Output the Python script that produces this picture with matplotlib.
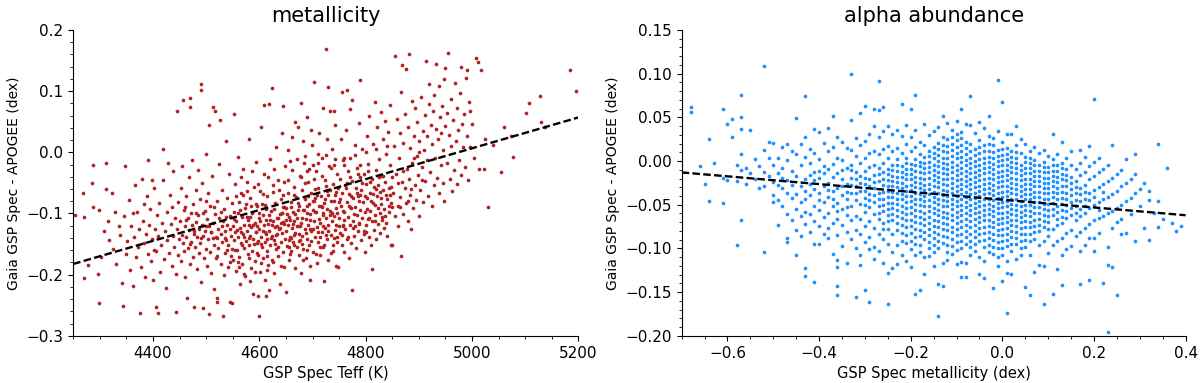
import matplotlib
matplotlib.use("Agg")
import matplotlib.pyplot as plt
import numpy as np
from matplotlib.ticker import AutoMinorLocator, MultipleLocator

# --- left panel: (GSP Spec Teff [K], Gaia - APOGEE [M/H])
metal_pts = [
    # 4250-4350
    (4253, -0.102), (4268, -0.066), (4271, -0.105), (4271, -0.206), (4278, -0.184), (4286, -0.050),
    (4287, -0.020), (4288, -0.090), (4297, -0.199), (4299, -0.095), (4299, -0.247), (4303, -0.171),
    (4308, -0.128), (4312, -0.017), (4312, -0.060), (4316, -0.112), (4318, -0.143), (4323, -0.066),
    (4325, -0.158), (4329, -0.097), (4331, -0.182), (4336, -0.121), (4338, -0.135), (4341, -0.213),
    (4344, -0.251), (4346, -0.104), (4348, -0.022), (4349, -0.167),
    # 4350-4450
    (4352, -0.145), (4355, -0.078), (4357, -0.192), (4359, -0.121), (4362, -0.218), (4364, -0.139),
    (4366, -0.054), (4368, -0.171), (4370, -0.098), (4372, -0.155), (4374, -0.126), (4376, -0.262),
    (4377, -0.187), (4379, -0.044), (4381, -0.112), (4383, -0.149), (4385, -0.203), (4386, -0.133),
    (4388, -0.072), (4390, -0.166), (4391, -0.012), (4393, -0.118), (4395, -0.092), (4396, -0.178),
    (4398, -0.141), (4400, -0.209), (4401, -0.058), (4403, -0.125), (4405, -0.252), (4406, -0.161),
    (4408, -0.103), (4410, -0.263), (4410, -0.137), (4412, -0.083), (4414, -0.195), (4415, -0.152),
    (4417, -0.115), (4419, -0.046), (4421, -0.174), (4422, -0.129), (4424, -0.221), (4426, -0.098),
    (4427, -0.143), (4428, -0.017), (4430, -0.164), (4432, -0.069), (4433, -0.117), (4435, -0.185),
    (4437, -0.136), (4438, -0.031), (4440, -0.154), (4441, -0.107), (4443, -0.261), (4444, -0.199),
    (4445, 0.067), (4446, -0.126), (4447, -0.081), (4448, -0.168), (4449, -0.141), (4398, -0.045),
    (4418, 0.005), (4384, -0.085), (4362, -0.100), (4402, -0.160), (4436, -0.090),
    # 4450-4550
    (4451, -0.112), (4452, -0.058), (4453, -0.177), (4454, -0.135), (4455, -0.022), (4456, -0.149),
    (4457, 0.086), (4458, -0.094), (4459, -0.162), (4460, -0.121), (4461, -0.203), (4462, -0.071),
    (4463, -0.138), (4464, -0.238), (4465, -0.108), (4466, -0.156), (4467, -0.041), (4468, -0.127),
    (4469, -0.183), (4470, 0.089), (4470, 0.074), (4471, -0.099), (4472, -0.146), (4473, -0.012),
    (4474, -0.118), (4475, -0.171), (4476, -0.085), (4477, -0.133), (4478, -0.252), (4479, -0.154),
    (4480, -0.062), (4481, -0.114), (4482, -0.191), (4483, -0.139), (4484, -0.029), (4485, -0.102),
    (4486, -0.165), (4487, -0.125), (4488, -0.076), (4489, -0.148), (4490, 0.112), (4490, 0.102),
    (4491, -0.212), (4492, -0.118), (4493, -0.051), (4494, -0.137), (4495, -0.255), (4496, -0.173),
    (4497, -0.096), (4498, -0.129), (4499, -0.002), (4500, -0.158), (4501, -0.109), (4502, -0.186),
    (4503, -0.067), (4504, -0.142), (4505, -0.121), (4506, 0.044), (4506, -0.265), (4507, -0.163),
    (4508, -0.088), (4509, -0.131), (4510, -0.197), (4511, -0.038), (4512, -0.116), (4513, 0.074),
    (4514, -0.151), (4515, -0.224), (4516, -0.101), (4517, 0.067), (4518, -0.139), (4519, -0.172),
    (4520, -0.238), (4521, -0.244), (4521, -0.079), (4522, -0.125), (4523, -0.156), (4524, -0.019),
    (4525, -0.108), (4526, 0.053), (4527, -0.182), (4528, -0.134), (4529, -0.061), (4530, -0.147),
    (4531, -0.267), (4532, -0.113), (4533, -0.201), (4534, -0.092), (4535, -0.165), (4536, -0.128),
    (4537, 0.018), (4538, -0.144), (4539, -0.074), (4540, -0.119), (4541, -0.188), (4542, -0.152),
    (4543, -0.035), (4544, -0.244), (4545, -0.104), (4546, -0.169), (4547, -0.136), (4548, -0.083),
    (4549, -0.247), (4549, -0.158), (4462, -0.110), (4478, -0.128), (4494, -0.100), (4512, -0.140),
    (4528, -0.097), (4544, -0.125), (4470, -0.150), (4500, -0.080), (4520, -0.170), (4538, -0.105),
    (4520, -0.140), (4530, -0.120), (4540, -0.160), (4510, -0.130), (4490, -0.140), (4480, -0.100),
    (4460, -0.090), (4500, -0.120), (4515, -0.090), (4535, -0.140), (4545, -0.180),
    # 4550-4650
    (4550, -0.121), (4551, -0.176), (4552, 0.063), (4552, -0.097), (4553, -0.143), (4554, -0.052),
    (4555, -0.131), (4556, -0.194), (4557, -0.112), (4558, -0.159), (4559, -0.008), (4560, -0.138),
    (4561, -0.082), (4562, -0.171), (4563, -0.124), (4564, -0.215), (4565, -0.149), (4566, -0.067),
    (4567, -0.106), (4568, -0.183), (4569, -0.133), (4570, -0.028), (4571, -0.157), (4572, -0.118),
    (4573, -0.091), (4574, -0.202), (4575, -0.145), (4576, -0.129), (4577, -0.048), (4578, -0.166),
    (4579, -0.111), (4580, 0.021), (4581, -0.152), (4582, -0.137), (4583, -0.075), (4584, -0.189),
    (4585, -0.122), (4586, -0.161), (4587, -0.099), (4588, -0.231), (4589, -0.141), (4590, -0.057),
    (4591, -0.115), (4592, -0.177), (4593, -0.131), (4594, -0.016), (4595, -0.149), (4596, -0.087),
    (4597, -0.168), (4598, -0.235), (4599, -0.268), (4599, -0.108), (4600, -0.126), (4601, -0.195),
    (4602, -0.064), (4603, -0.139), (4604, 0.041), (4605, -0.154), (4606, -0.102), (4607, -0.172),
    (4608, 0.078), (4608, -0.119), (4609, -0.036), (4610, -0.146), (4611, -0.209), (4612, -0.235),
    (4612, -0.093), (4613, -0.133), (4614, -0.161), (4615, -0.071), (4616, -0.117), (4617, -0.184),
    (4618, 0.079), (4618, -0.225), (4619, -0.128), (4620, -0.011), (4621, -0.151), (4622, -0.096),
    (4623, 0.105), (4623, -0.137), (4624, -0.176), (4625, -0.112), (4626, -0.054), (4627, -0.143),
    (4628, -0.198), (4629, -0.122), (4630, -0.083), (4631, -0.158), (4632, 0.008), (4633, -0.107),
    (4634, -0.134), (4635, -0.169), (4636, -0.046), (4637, -0.125), (4638, -0.215), (4639, -0.101),
    (4640, -0.147), (4641, -0.077), (4642, -0.132), (4643, 0.032), (4644, 0.076), (4644, -0.163),
    (4645, -0.114), (4646, -0.188), (4647, -0.089), (4648, -0.141), (4649, -0.023),
    (4553, -0.109), (4558, -0.127), (4563, -0.095), (4567, -0.152), (4572, -0.139), (4576, -0.105),
    (4581, -0.173), (4585, -0.088), (4589, -0.118), (4594, -0.131), (4597, -0.145), (4602, -0.112),
    (4606, -0.128), (4611, -0.086), (4615, -0.141), (4619, -0.103), (4623, -0.119), (4627, -0.092),
    (4631, -0.135), (4635, -0.108), (4639, -0.124), (4643, -0.099), (4647, -0.117), (4556, -0.072),
    (4566, -0.041), (4577, -0.063), (4587, -0.031), (4597, -0.052), (4607, -0.068), (4617, -0.041),
    (4627, -0.027), (4637, -0.061), (4647, -0.048), (4561, -0.188), (4571, -0.199), (4583, -0.211),
    (4592, -0.196), (4604, -0.181), (4614, -0.193), (4626, -0.179), (4641, -0.186),
    (4555, -0.160), (4565, -0.130), (4580, -0.118), (4590, -0.150), (4600, -0.100), (4610, -0.130),
    (4620, -0.110), (4630, -0.150), (4640, -0.115), (4645, -0.070), (4575, -0.085), (4595, -0.120),
    (4560, -0.100), (4570, -0.070), (4582, -0.105), (4593, -0.085), (4603, -0.150), (4613, -0.110),
    (4622, -0.140), (4633, -0.120), (4642, -0.100), (4595, -0.165), (4615, -0.170), (4635, -0.155),
    (4580, -0.140), (4605, -0.085), (4625, -0.065), (4645, -0.090), (4560, -0.180),
    # 4650-4750
    (4650, -0.128), (4651, -0.228), (4651, -0.091), (4652, -0.153), (4653, -0.067), (4654, -0.119),
    (4655, -0.176), (4656, -0.105), (4657, -0.014), (4658, -0.138), (4659, -0.081), (4660, -0.162),
    (4661, -0.124), (4662, 0.025), (4663, -0.098), (4664, -0.147), (4665, -0.056), (4666, -0.113),
    (4667, -0.189), (4668, -0.132), (4669, -0.073), (4670, -0.154), (4671, -0.107), (4672, 0.042),
    (4673, -0.121), (4674, -0.168), (4675, -0.088), (4676, -0.039), (4677, -0.143), (4678, 0.081),
    (4678, -0.115), (4679, -0.198), (4680, -0.062), (4681, -0.136), (4682, -0.094), (4683, -0.158),
    (4684, -0.018), (4685, -0.126), (4686, -0.077), (4687, -0.109), (4688, -0.172), (4689, 0.057),
    (4690, -0.141), (4691, -0.049), (4692, -0.118), (4693, -0.085), (4694, -0.151), (4695, -0.101),
    (4696, -0.208), (4697, -0.066), (4698, -0.129), (4699, 0.012), (4700, -0.094), (4701, -0.163),
    (4702, -0.112), (4703, 0.115), (4704, -0.075), (4705, -0.139), (4706, -0.031), (4707, -0.098),
    (4708, -0.181), (4709, -0.122), (4710, -0.058), (4711, -0.146), (4712, -0.087), (4713, 0.031),
    (4714, -0.115), (4715, -0.168), (4716, -0.071), (4717, -0.131), (4718, -0.009), (4719, -0.103),
    (4720, 0.073), (4720, -0.155), (4721, -0.211), (4722, -0.083), (4723, -0.124), (4724, -0.046),
    (4725, 0.169), (4726, -0.108), (4727, -0.142), (4728, -0.064), (4729, -0.118), (4730, 0.107),
    (4730, -0.176), (4731, -0.022), (4732, -0.096), (4733, 0.067), (4734, -0.135), (4735, -0.079),
    (4736, -0.113), (4737, 0.005), (4738, -0.151), (4739, -0.052), (4740, -0.104), (4741, 0.068),
    (4742, -0.127), (4743, -0.069), (4744, -0.185), (4745, -0.091), (4746, -0.036), (4747, -0.138),
    (4748, -0.187), (4749, -0.081),
    (4652, -0.101), (4656, -0.143), (4660, -0.089), (4664, -0.117), (4668, -0.101), (4672, -0.083),
    (4676, -0.121), (4680, -0.108), (4684, -0.094), (4688, -0.132), (4692, -0.071), (4696, -0.111),
    (4700, -0.126), (4704, -0.097), (4708, -0.069), (4712, -0.109), (4716, -0.088), (4720, -0.121),
    (4724, -0.076), (4728, -0.092), (4732, -0.061), (4736, -0.099), (4740, -0.079), (4744, -0.118),
    (4748, -0.059), (4654, -0.045), (4662, -0.029), (4670, -0.011), (4678, -0.041), (4686, -0.006),
    (4694, -0.028), (4702, -0.044), (4710, -0.017), (4718, -0.038), (4726, -0.004), (4734, -0.026),
    (4742, -0.011), (4658, -0.166), (4666, -0.151), (4674, -0.133), (4682, -0.176), (4690, -0.159),
    (4698, -0.145), (4706, -0.167), (4714, -0.139), (4722, -0.152), (4730, -0.128), (4738, -0.161),
    (4746, -0.147), (4653, 0.003), (4667, 0.049), (4683, 0.018), (4697, 0.037), (4711, -0.002),
    (4727, 0.022), (4743, 0.045), (4658, -0.110), (4673, -0.095), (4689, -0.088), (4703, -0.080),
    (4718, -0.090), (4733, -0.102), (4747, -0.100), (4665, -0.135), (4695, -0.125), (4725, -0.135),
    (4650, -0.110), (4660, -0.140), (4670, -0.120), (4680, -0.150), (4690, -0.100), (4700, -0.080),
    (4710, -0.130), (4720, -0.100), (4730, -0.070), (4740, -0.140), (4655, -0.155), (4675, -0.145),
    (4695, -0.185), (4715, -0.155), (4735, -0.165), (4665, -0.070), (4685, -0.050), (4705, -0.060),
    (4725, -0.055), (4745, -0.065), (4700, -0.020), (4690, -0.030), (4740, -0.020),
    # 4750-4850
    (4750, -0.108), (4751, -0.043), (4752, -0.132), (4753, 0.021), (4754, -0.087), (4755, 0.098),
    (4755, -0.151), (4756, -0.066), (4757, -0.119), (4758, -0.013), (4759, -0.097), (4760, -0.163),
    (4761, -0.054), (4762, -0.126), (4763, 0.036), (4764, -0.082), (4765, 0.101), (4765, -0.141),
    (4766, -0.031), (4767, -0.105), (4768, -0.172), (4769, -0.068), (4770, 0.070), (4770, -0.118),
    (4771, -0.009), (4772, -0.091), (4773, -0.148), (4774, -0.047), (4775, 0.085), (4775, -0.225),
    (4776, -0.112), (4777, -0.075), (4778, -0.136), (4779, 0.012), (4780, -0.089), (4781, -0.157),
    (4782, -0.058), (4783, -0.103), (4784, -0.026), (4785, -0.129), (4786, -0.071), (4787, 0.048),
    (4788, -0.115), (4789, -0.041), (4790, 0.118), (4790, -0.094), (4791, -0.143), (4792, -0.062),
    (4793, -0.108), (4794, 0.005), (4795, -0.081), (4796, -0.134), (4797, -0.036), (4798, -0.097),
    (4799, -0.163), (4800, -0.052), (4801, -0.118), (4802, 0.027), (4803, -0.074), (4804, -0.109),
    (4805, -0.019), (4806, -0.138), (4807, 0.059), (4808, -0.066), (4809, -0.096), (4810, -0.151),
    (4811, -0.190), (4811, -0.044), (4812, -0.113), (4813, 0.014), (4814, -0.083), (4815, -0.127),
    (4816, -0.057), (4817, 0.082), (4818, -0.102), (4819, -0.029), (4820, -0.141), (4821, -0.072),
    (4822, 0.042), (4823, -0.091), (4824, -0.117), (4825, -0.011), (4826, -0.065), (4827, -0.132),
    (4828, 0.066), (4829, -0.085), (4830, -0.039), (4831, -0.106), (4832, 0.022), (4833, -0.061),
    (4834, -0.124), (4835, -0.092), (4836, 0.051), (4837, -0.048), (4838, -0.115), (4839, -0.003),
    (4840, -0.077), (4841, -0.137), (4842, 0.033), (4843, -0.059), (4844, -0.098), (4845, -0.021),
    (4846, 0.078), (4847, -0.083), (4848, -0.152), (4849, -0.152), (4849, -0.041),
    (4752, -0.077), (4758, -0.096), (4763, -0.059), (4768, -0.088), (4773, -0.071), (4778, -0.101),
    (4783, -0.066), (4788, -0.079), (4793, -0.051), (4798, -0.072), (4803, -0.093), (4808, -0.049),
    (4813, -0.068), (4818, -0.086), (4823, -0.053), (4828, -0.074), (4833, -0.038), (4838, -0.069),
    (4843, -0.087), (4848, -0.056), (4757, -0.121), (4767, -0.139), (4777, -0.124), (4787, -0.117),
    (4797, -0.128), (4807, -0.107), (4817, -0.113), (4827, -0.099), (4837, -0.104),
    (4760, -0.020), (4780, -0.005), (4800, 0.000), (4820, 0.005), (4840, 0.010), (4770, -0.040),
    (4750, -0.120), (4760, -0.110), (4770, -0.090), (4780, -0.120), (4790, -0.070), (4800, -0.130),
    (4810, -0.080), (4820, -0.060), (4830, -0.110), (4755, -0.135), (4765, -0.050), (4785, -0.035),
    (4805, -0.030), (4825, -0.040), (4845, -0.070), (4760, -0.010), (4790, -0.020),
    # 4850-4950
    (4851, -0.066), (4853, 0.011), (4855, -0.104), (4856, 0.157), (4857, -0.035), (4858, 0.054),
    (4860, -0.087), (4861, -0.121), (4862, -0.009), (4864, 0.032), (4865, -0.073), (4866, 0.098),
    (4867, -0.170), (4868, -0.048), (4869, 0.143), (4870, -0.101), (4871, 0.015), (4873, -0.059),
    (4874, 0.062), (4876, 0.136), (4876, -0.083), (4877, -0.027), (4879, 0.041), (4880, -0.113),
    (4881, -0.044), (4882, 0.160), (4883, 0.007), (4884, -0.069), (4886, -0.126), (4887, 0.083),
    (4888, -0.018), (4889, -0.091), (4891, 0.026), (4892, -0.053), (4893, 0.072), (4895, -0.078),
    (4896, -0.006), (4897, 0.049), (4899, -0.037), (4900, -0.104), (4901, 0.018), (4903, -0.061),
    (4904, 0.091), (4905, -0.024), (4907, 0.035), (4908, -0.082), (4909, 0.004), (4911, 0.061),
    (4912, -0.047), (4914, 0.149), (4915, -0.013), (4916, 0.027), (4918, -0.071), (4919, 0.079),
    (4920, 0.112), (4921, -0.032), (4923, 0.045), (4924, -0.088), (4925, 0.013), (4926, 0.068),
    (4928, -0.054), (4929, 0.094), (4930, -0.009), (4932, 0.145), (4933, 0.038), (4934, -0.042),
    (4936, 0.022), (4937, -0.066), (4938, 0.108), (4939, 0.057), (4941, -0.021), (4942, 0.031),
    (4944, 0.076), (4945, -0.051), (4946, 0.004), (4947, 0.119), (4948, -0.079), (4949, 0.043),
    (4850, -0.090), (4860, -0.050), (4870, -0.030), (4880, -0.080), (4890, -0.010), (4900, 0.000),
    (4865, -0.090), (4885, -0.060), (4905, -0.045),
    # 4950-5200
    (4950, 0.137), (4952, 0.064), (4953, -0.018), (4954, 0.162), (4956, 0.029), (4958, -0.044),
    (4960, 0.087), (4961, 0.011), (4963, -0.063), (4964, 0.052), (4966, -0.029), (4968, 0.113),
    (4969, 0.018), (4971, -0.052), (4972, 0.072), (4974, 0.036), (4975, -0.012), (4977, 0.097),
    (4979, 0.139), (4980, -0.037), (4981, 0.047), (4983, 0.008), (4985, 0.063), (4986, -0.024),
    (4988, 0.121), (4990, 0.135), (4991, 0.027), (4993, -0.046), (4995, 0.082), (4997, 0.068),
    (4997, 0.009), (4999, 0.046), (5004, -0.010), (5008, 0.154), (5012, 0.147), (5013, -0.027),
    (5017, 0.134), (5022, -0.027), (5030, -0.089), (5025, 0.021), (5040, 0.012),
    (5055, -0.033), (5060, 0.042), (5073, 0.026), (5077, -0.007), (5101, 0.064), (5108, 0.080),
    (5127, 0.092), (5130, 0.049), (5137, 0.042), (5185, 0.134), (5196, 0.100),
]

# --- right panel: GSP Spec [M/H] column -> Gaia - APOGEE [alpha/M] values
alpha_cols = {
    -0.68: [0.062, 0.056], -0.66: [-0.006], -0.65: [-0.026], -0.64: [0.025, -0.046],
    -0.63: [-0.002], -0.61: [0.060, -0.019, -0.048], -0.60: [0.042, -0.022], -0.59: [0.048, 0.027],
    -0.58: [-0.023, -0.096, -0.004], -0.57: [0.076, 0.050, 0.037, 0.008, -0.010, -0.067],
    -0.56: [-0.026, -0.008], -0.55: [0.036, -0.014], -0.54: [0.002, -0.021], -0.53: [-0.006, -0.031],
    -0.52: [0.109, 0.013, -0.104, -0.012, -0.029], -0.51: [0.022, 0.003, -0.017],
    -0.50: [0.021, -0.004, -0.024, -0.039, -0.047], -0.49: [0.004, -0.014, -0.045, -0.073, -0.027],
    -0.48: [0.016, -0.008, -0.031, -0.052, -0.019],
    -0.47: [0.020, 0.001, -0.022, -0.061, -0.088, -0.093, -0.036],
    -0.46: [0.011, -0.011, -0.042, -0.068, -0.027],
    -0.45: [0.049, 0.008, -0.017, -0.038, -0.055, -0.079, -0.107],
    -0.44: [0.019, -0.004, -0.029, -0.047, -0.063, -0.086],
    -0.43: [0.074, 0.027, 0.005, -0.021, -0.044, -0.058, -0.072, -0.122, -0.132, -0.034],
    -0.42: [0.014, -0.002, -0.016, -0.039, -0.061, -0.081, -0.026],
    -0.41: [0.037, 0.009, -0.012, -0.032, -0.051, -0.069, -0.095, -0.138, -0.022],
    -0.40: [0.033, 0.002, -0.019, -0.037, -0.056, -0.074, -0.095, -0.011, -0.045],
    -0.39: [0.021, -0.006, -0.028, -0.047, -0.064, -0.083, -0.014],
    -0.38: [0.038, 0.012, -0.009, -0.025, -0.041, -0.059, -0.077, -0.088, -0.033],
    -0.37: [0.051, 0.016, -0.003, -0.018, -0.034, -0.052, -0.071, -0.106, -0.043],
    -0.36: [0.028, 0.004, -0.014, -0.031, -0.048, -0.066, -0.085, -0.113, -0.121, -0.143, -0.153, -0.057],
    -0.35: [0.022, 0.001, -0.021, -0.039, -0.055, -0.073, -0.097, -0.029, -0.010],
    -0.34: [0.015, -0.008, -0.026, -0.044, -0.062, -0.081, -0.117, -0.035, -0.053],
    -0.33: [0.100, 0.047, 0.013, -0.005, -0.019, -0.036, -0.051, -0.068, -0.089, -0.027, -0.010],
    -0.32: [0.026, 0.006, -0.012, -0.029, -0.045, -0.063, -0.079, -0.099, -0.155, -0.021, -0.037],
    -0.31: [0.055, 0.018, -0.002, -0.017, -0.034, -0.049, -0.066, -0.084, -0.108, -0.119, -0.025],
    -0.30: [0.063, 0.023, 0.004, -0.011, -0.026, -0.042, -0.058, -0.074, -0.093, -0.148, -0.019,
            -0.034, -0.050],
    -0.29: [0.031, 0.009, -0.007, -0.021, -0.038, -0.053, -0.069, -0.087, -0.101, -0.161, -0.029,
            -0.045],
    -0.28: [0.060, 0.040, 0.012, -0.004, -0.016, -0.031, -0.047, -0.061, -0.077, -0.098, -0.112,
            -0.024, -0.039],
    -0.27: [0.092, 0.058, 0.028, 0.008, -0.008, -0.023, -0.036, -0.052, -0.066, -0.083, -0.103,
            -0.015, -0.044, -0.059],
    -0.26: [0.062, 0.034, 0.014, -0.002, -0.013, -0.027, -0.043, -0.057, -0.071, -0.089, -0.117,
            -0.020, -0.035, -0.050, -0.078],
    -0.25: [0.040, 0.017, 0.003, -0.009, -0.022, -0.034, -0.048, -0.062, -0.078, -0.095, -0.128,
            -0.163, -0.015, -0.028, -0.041, -0.055, -0.069],
    -0.24: [0.031, 0.011, -0.004, -0.017, -0.029, -0.041, -0.054, -0.068, -0.084, -0.104, -0.122,
            -0.010, -0.023, -0.035, -0.048, -0.061],
    -0.23: [0.036, 0.015, 0.002, -0.011, -0.024, -0.037, -0.049, -0.063, -0.079, -0.096, -0.118,
            -0.005, -0.018, -0.030, -0.043, -0.056, -0.071],
    -0.22: [0.065, 0.029, 0.009, -0.006, -0.018, -0.031, -0.044, -0.058, -0.073, -0.091, -0.108,
            -0.012, -0.025, -0.038, -0.051, -0.065, -0.082],
    -0.21: [0.041, 0.019, 0.004, -0.009, -0.021, -0.034, -0.047, -0.061, -0.076, -0.094, -0.114,
            -0.002, -0.015, -0.028, -0.040, -0.054, -0.068, -0.085],
    -0.20: [0.060, 0.027, 0.011, -0.003, -0.015, -0.027, -0.040, -0.053, -0.067, -0.082, -0.101,
            -0.121, -0.009, -0.021, -0.033, -0.046, -0.060, -0.074, -0.091],
    -0.19: [0.076, 0.035, 0.016, 0.002, -0.011, -0.024, -0.036, -0.049, -0.063, -0.078, -0.095,
            -0.152, -0.005, -0.018, -0.030, -0.043, -0.056, -0.070, -0.087, -0.108],
    -0.18: [0.022, 0.008, -0.006, -0.019, -0.031, -0.044, -0.057, -0.071, -0.086, -0.104, -0.147,
            -0.001, -0.013, -0.025, -0.038, -0.050, -0.064, -0.079, -0.096],
    -0.17: [0.042, 0.018, 0.005, -0.008, -0.021, -0.033, -0.046, -0.059, -0.073, -0.089, -0.129,
            -0.110, -0.002, -0.014, -0.027, -0.040, -0.052, -0.066, -0.081],
    -0.16: [0.030, 0.012, -0.001, -0.013, -0.026, -0.038, -0.051, -0.064, -0.078, -0.093, -0.109,
            0.006, -0.007, -0.019, -0.032, -0.045, -0.057, -0.071, -0.085, -0.100],
    -0.15: [0.034, 0.016, 0.003, -0.010, -0.022, -0.035, -0.047, -0.060, -0.074, -0.088, -0.104,
            -0.120, 0.009, -0.004, -0.016, -0.028, -0.041, -0.054, -0.067, -0.081, -0.096],
    -0.14: [0.039, 0.021, 0.007, -0.006, -0.018, -0.030, -0.043, -0.056, -0.069, -0.083, -0.099,
            -0.141, -0.177, 0.014, 0.000, -0.012, -0.024, -0.037, -0.049, -0.062, -0.076, -0.091],
    -0.13: [0.051, 0.027, 0.011, -0.002, -0.014, -0.026, -0.039, -0.051, -0.064, -0.078, -0.094,
            -0.117, -0.143, 0.018, 0.004, -0.008, -0.020, -0.033, -0.045, -0.058, -0.071, -0.086],
    -0.12: [0.044, 0.025, 0.010, -0.003, -0.015, -0.027, -0.040, -0.052, -0.065, -0.079, -0.096,
            -0.113, 0.017, 0.003, -0.009, -0.021, -0.034, -0.046, -0.059, -0.072, -0.087, -0.104],
    -0.11: [0.035, 0.020, 0.006, -0.007, -0.019, -0.031, -0.043, -0.055, -0.068, -0.081, -0.097,
            0.027, 0.013, -0.001, -0.013, -0.025, -0.037, -0.049, -0.062, -0.075, -0.089, -0.106],
    -0.10: [0.046, 0.031, 0.016, 0.003, -0.010, -0.022, -0.034, -0.046, -0.058, -0.071, -0.085,
            -0.102, -0.118, 0.024, 0.009, -0.004, -0.016, -0.028, -0.040, -0.052, -0.064, -0.078,
            -0.093],
    -0.09: [0.060, 0.033, 0.018, 0.005, -0.008, -0.020, -0.032, -0.044, -0.056, -0.069, -0.083,
            -0.099, -0.116, 0.026, 0.011, -0.001, -0.014, -0.026, -0.038, -0.050, -0.062, -0.076,
            -0.091, -0.133],
    -0.08: [0.042, 0.022, 0.008, -0.005, -0.017, -0.029, -0.041, -0.053, -0.066, -0.080, -0.095,
            -0.117, 0.015, 0.001, -0.011, -0.023, -0.035, -0.047, -0.059, -0.073, -0.087, -0.133],
    -0.07: [0.074, 0.041, 0.019, 0.004, -0.008, -0.020, -0.032, -0.044, -0.056, -0.069, -0.083,
            -0.098, 0.012, -0.002, -0.014, -0.026, -0.038, -0.050, -0.062, -0.076, -0.091, -0.107],
    -0.06: [0.032, 0.014, 0.000, -0.012, -0.024, -0.036, -0.048, -0.060, -0.073, -0.087, -0.103,
            0.007, -0.006, -0.018, -0.030, -0.042, -0.054, -0.066, -0.080, -0.095],
    -0.05: [0.045, 0.024, 0.009, -0.004, -0.016, -0.028, -0.040, -0.052, -0.064, -0.077, -0.092,
            -0.110, 0.016, 0.002, -0.010, -0.022, -0.034, -0.046, -0.058, -0.070, -0.084, -0.129],
    -0.04: [0.038, 0.018, 0.004, -0.008, -0.020, -0.032, -0.044, -0.056, -0.068, -0.082, -0.098,
            -0.114, 0.011, -0.002, -0.014, -0.026, -0.038, -0.050, -0.062, -0.075, -0.090, -0.134],
    -0.03: [0.052, 0.029, 0.012, -0.001, -0.013, -0.025, -0.037, -0.049, -0.061, -0.074, -0.088,
            -0.104, 0.020, 0.005, -0.007, -0.019, -0.031, -0.043, -0.055, -0.067, -0.081, -0.096],
    -0.02: [0.026, 0.010, -0.003, -0.015, -0.027, -0.039, -0.051, -0.063, -0.076, -0.090, -0.106,
            -0.145, 0.018, 0.003, -0.009, -0.021, -0.033, -0.045, -0.057, -0.070, -0.083, -0.098],
    -0.01: [0.093, 0.034, 0.013, 0.000, -0.012, -0.024, -0.036, -0.048, -0.060, -0.072, -0.085,
            -0.100, -0.120, 0.006, -0.006, -0.018, -0.030, -0.042, -0.054, -0.066, -0.079, -0.093,
            -0.110],
    0.00: [0.067, 0.022, 0.007, -0.005, -0.017, -0.029, -0.041, -0.053, -0.065, -0.078, -0.092,
           -0.108, -0.137, 0.014, 0.001, -0.011, -0.023, -0.035, -0.047, -0.059, -0.071, -0.085,
           -0.100],
    0.01: [0.031, 0.015, 0.002, -0.010, -0.022, -0.034, -0.046, -0.058, -0.070, -0.083, -0.097,
           -0.114, -0.128, -0.174, 0.008, -0.004, -0.016, -0.028, -0.040, -0.052, -0.064, -0.077,
           -0.090],
    0.02: [0.031, 0.012, -0.001, -0.013, -0.025, -0.037, -0.049, -0.061, -0.073, -0.087, -0.103,
           -0.129, 0.005, -0.007, -0.019, -0.031, -0.043, -0.055, -0.067, -0.080, -0.095],
    0.03: [0.040, 0.018, 0.004, -0.008, -0.020, -0.032, -0.044, -0.056, -0.068, -0.081, -0.095,
           -0.112, 0.010, -0.002, -0.014, -0.026, -0.038, -0.050, -0.062, -0.074, -0.088],
    0.04: [0.025, 0.009, -0.004, -0.016, -0.028, -0.040, -0.052, -0.064, -0.077, -0.091, -0.107,
           -0.010, -0.022, -0.034, -0.046, -0.058, -0.070, -0.084, -0.099],
    0.05: [0.019, 0.005, -0.008, -0.020, -0.032, -0.044, -0.056, -0.069, -0.083, -0.098, -0.144,
           -0.001, -0.014, -0.026, -0.038, -0.050, -0.062, -0.076, -0.090],
    0.06: [0.011, -0.002, -0.014, -0.026, -0.038, -0.050, -0.063, -0.076, -0.091, -0.108, -0.153,
           0.004, -0.008, -0.020, -0.032, -0.044, -0.057, -0.070, -0.084],
    0.07: [0.016, 0.001, -0.011, -0.023, -0.035, -0.047, -0.060, -0.074, -0.089, -0.127, -0.005,
           -0.017, -0.029, -0.041, -0.053, -0.067, -0.081],
    0.08: [0.009, -0.005, -0.017, -0.029, -0.041, -0.053, -0.066, -0.080, -0.096, -0.119, -0.011,
           -0.023, -0.035, -0.047, -0.060, -0.073],
    0.09: [0.013, -0.001, -0.013, -0.025, -0.037, -0.049, -0.062, -0.076, -0.092, -0.163, -0.007,
           -0.019, -0.031, -0.043, -0.055, -0.069, -0.120],
    0.10: [0.006, -0.007, -0.019, -0.031, -0.043, -0.056, -0.070, -0.086, -0.105, -0.013, -0.025,
           -0.037, -0.049, -0.063, -0.078],
    0.11: [0.031, 0.002, -0.011, -0.023, -0.035, -0.048, -0.062, -0.078, -0.096, -0.152, -0.005,
           -0.017, -0.029, -0.041, -0.055],
    0.12: [0.008, -0.005, -0.018, -0.031, -0.044, -0.058, -0.073, -0.091, -0.124, -0.011, -0.024,
           -0.037, -0.051, -0.066],
    0.13: [0.022, -0.002, -0.015, -0.028, -0.042, -0.056, -0.071, -0.088, -0.142, -0.008, -0.021,
           -0.035, -0.049, -0.064, -0.108],
    0.14: [0.004, -0.009, -0.022, -0.036, -0.050, -0.065, -0.082, -0.101, -0.016, -0.029, -0.043,
           -0.057],
    0.15: [0.011, -0.004, -0.018, -0.032, -0.047, -0.062, -0.079, -0.097, -0.025, -0.039, -0.054],
    0.16: [-0.009, -0.023, -0.037, -0.052, -0.068, -0.086, -0.030, -0.045, -0.060],
    0.17: [0.013, -0.002, -0.016, -0.031, -0.046, -0.063, -0.081, -0.141, -0.103, -0.038, -0.055],
    0.18: [0.005, -0.012, -0.027, -0.043, -0.059, -0.077, -0.096, -0.035, -0.051],
    0.19: [0.017, -0.006, -0.021, -0.037, -0.054, -0.072, -0.136, -0.045, -0.088],
    0.20: [0.071, -0.001, -0.017, -0.033, -0.050, -0.068, -0.088, -0.103, -0.041],
    0.21: [0.004, -0.013, -0.030, -0.047, -0.065, -0.082, -0.056],
    0.22: [-0.009, -0.026, -0.044, -0.063, -0.139, -0.035],
    0.23: [-0.196, -0.005, -0.023, -0.041, -0.060, -0.098, -0.119],
    0.24: [0.018, -0.019, -0.038, -0.057, -0.077, -0.121],
    0.25: [-0.153, -0.015, -0.034, -0.054, -0.070],
    0.26: [-0.010, -0.029, -0.050, -0.066, -0.084],
    0.27: [0.002, -0.025, -0.046, -0.082],
    0.28: [-0.021, -0.042, -0.061],
    0.29: [0.008, -0.015, -0.037, -0.092],
    0.30: [-0.032, -0.052], 0.31: [-0.025, -0.077], 0.32: [-0.034, -0.045, -0.090],
    0.33: [-0.060], 0.34: [0.019, -0.075, -0.046], 0.35: [-0.066], 0.36: [-0.008],
    0.37: [-0.071], 0.38: [-0.080], 0.39: [-0.074],
}

# linear fits drawn as dashed lines (slope, intercept)
metal_fit = (2.52e-4, -1.2535)
alpha_fit = (-0.0445, -0.0442)

metal_color = "#b22222"
alpha_color = "#1e90ff"


def minus(fmt):
    return plt.FuncFormatter(lambda v, _: format(v, fmt).replace("-", "\u2212"))


def draw_panel(ax, x, y, fit, xlim, color, title, xlabel):
    ax.scatter(x, y, s=7, c=color, linewidths=0, zorder=2)
    xs = np.array(xlim)
    ax.plot(xs, fit[0] * xs + fit[1], color="black", lw=1.7, dashes=(3.2, 1.4), zorder=3)
    ax.set_xlim(*xlim)
    ax.set_title(title, fontsize=15)
    ax.set_xlabel(xlabel, fontsize=10.5)
    ax.set_ylabel("Gaia GSP Spec - APOGEE (dex)", fontsize=10)
    for side in ("top", "right"):
        ax.spines[side].set_visible(False)
    ax.tick_params(labelsize=11)
    ax.xaxis.set_minor_locator(AutoMinorLocator(4))


fig = plt.figure(figsize=(12, 3.83), dpi=100)
ax1 = fig.add_axes([0.061, 0.123, 0.421, 0.799])
ax2 = fig.add_axes([0.568, 0.123, 0.420, 0.799])

teff = np.array([p[0] for p in metal_pts])
d_mh = np.array([p[1] for p in metal_pts])
draw_panel(ax1, teff, d_mh, metal_fit, (4250, 5200), metal_color,
           "metallicity", "GSP Spec Teff (K)")
ax1.set_ylim(-0.3, 0.2)
ax1.xaxis.set_major_locator(MultipleLocator(200))
ax1.yaxis.set_major_locator(MultipleLocator(0.1))
ax1.yaxis.set_minor_locator(MultipleLocator(0.02))

feh = np.concatenate([[k] * len(v) for k, v in alpha_cols.items()])
d_alpha = np.concatenate([v for v in alpha_cols.values()])
draw_panel(ax2, feh, d_alpha, alpha_fit, (-0.7, 0.4), alpha_color,
           "alpha abundance", "GSP Spec metallicity (dex)")
ax2.set_ylim(-0.2, 0.15)
ax2.xaxis.set_major_locator(MultipleLocator(0.2))
ax2.yaxis.set_major_locator(MultipleLocator(0.05))
ax2.yaxis.set_minor_locator(MultipleLocator(0.01))
ax2.xaxis.set_major_formatter(minus(".1f"))
ax2.yaxis.set_major_formatter(minus(".2f"))

fig.savefig("out.png", dpi=100)
